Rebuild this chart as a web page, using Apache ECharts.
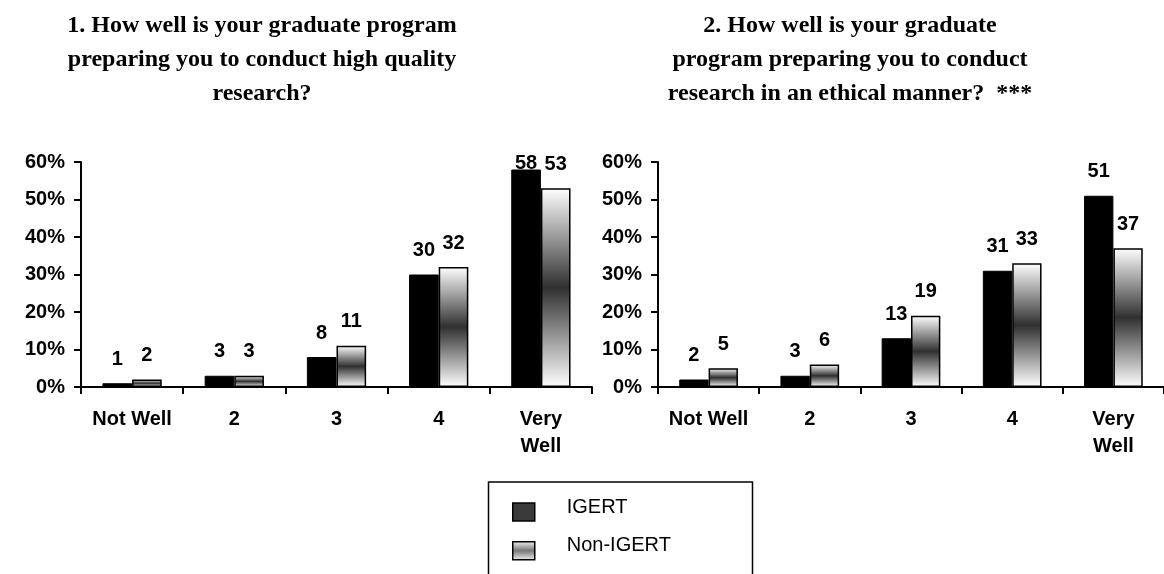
<!DOCTYPE html>
<html><head><meta charset="utf-8">
<script src="https://cdn.jsdelivr.net/npm/echarts@6/dist/echarts.min.js"></script>
<style>html,body{margin:0;padding:0;background:#fff}#c{width:1164px;height:574px}</style>
</head><body><div id="c"></div>
<script>
const categories = ['Not Well', '2', '3', '4', 'Very\nWell'];
const q1Igert = [1, 3, 8, 30, 58];
const q1NonIgert = [2, 3, 11, 32, 53];
const q2Igert = [2, 3, 13, 31, 51];
const q2NonIgert = [5, 6, 19, 33, 37];
const yTicks = [0, 10, 20, 30, 40, 50, 60];
const title1 = '1. How well is your graduate program\npreparing you to conduct high quality\nresearch?';
const title2 = '2. How well is your graduate\nprogram preparing you to conduct\nresearch in an ethical manner?  ***';
const seriesNames = ['IGERT', 'Non-IGERT'];

const YMAX = yTicks[yTicks.length - 1];
const PLOT_H = 225;
const gradFill = new echarts.graphic.LinearGradient(0, 0, 0, 1, [
  {offset: 0, color: '#ffffff'},
  {offset: 0.5, color: '#303030'},
  {offset: 1, color: '#ffffff'}
]);
const legendGrad = new echarts.graphic.LinearGradient(0, 0, 0, 1, [
  {offset: 0, color: '#f4f4f4'},
  {offset: 0.5, color: '#777777'},
  {offset: 1, color: '#f4f4f4'}
]);

function items(vals) {
  return vals.map(v => {
    const room = (YMAX - v) * PLOT_H / YMAX - 11;
    return {value: v, label: {distance: Math.min(14, room)}};
  });
}
const FONT = 'Liberation Sans, Arial, sans-serif';
const TFONT = 'bold 24px "Liberation Serif", "Times New Roman", serif';
const labelStyle = {show: true, position: 'top', fontFamily: FONT, fontWeight: 'bold', fontSize: 20, color: '#000'};

function mkSeries(name, vals, idx, grad) {
  return {
    type: 'bar', name: name, xAxisIndex: idx, yAxisIndex: idx,
    data: items(vals), barGap: '0%', barCategoryGap: '42%',
    itemStyle: grad ? {color: gradFill, borderColor: '#000', borderWidth: 1.5} : {color: '#000', borderColor: '#000', borderWidth: 1},
    label: labelStyle, animation: false
  };
}

const axisFont = {fontFamily: FONT, fontWeight: 'bold', fontSize: 20, color: '#000'};
function xAx(gi) {
  return {type: 'category', gridIndex: gi, data: categories,
    axisLine: {lineStyle: {color: '#000', width: 2}},
    axisTick: {show: true, inside: false, length: 7, alignWithLabel: false, lineStyle: {color: '#000', width: 2}},
    axisLabel: Object.assign({margin: 19, lineHeight: 27, interval: 0}, axisFont)};
}
function yAx(gi) {
  return {type: 'value', gridIndex: gi, min: 0, max: YMAX, interval: 10,
    axisLine: {show: true, lineStyle: {color: '#000', width: 2}},
    axisTick: {show: true, length: 7, lineStyle: {color: '#000', width: 2}},
    splitLine: {show: false},
    axisLabel: Object.assign({margin: 16, formatter: v => yTicks.includes(v) ? v + '%' : ''}, axisFont)};
}

const chart = echarts.init(document.getElementById('c'), null, {renderer: 'canvas'});
chart.setOption({
  backgroundColor: '#fff',
  animation: false,
  grid: [
    {left: 81, top: 162, width: 511, height: PLOT_H},
    {left: 658, top: 162, width: 511, height: PLOT_H}
  ],
  xAxis: [xAx(0), xAx(1)],
  yAxis: [yAx(0), yAx(1)],
  legend: {
    orient: 'vertical', left: 488, top: 482,
    itemWidth: 22, itemHeight: 18, itemGap: 14,
    padding: [15, 5, 0, 24],
    formatter: '{t|{name}}',
    textStyle: {fontFamily: FONT, fontSize: 20, color: '#000', padding: [0, 0, 0, 27],
      rich: {t: {fontFamily: FONT, fontSize: 20, color: '#000', padding: [0, 0, 10, 0]}}},
    data: [
      {name: seriesNames[0], icon: 'rect', itemStyle: {color: '#3a3a3a', borderColor: '#000', borderWidth: 1.5}},
      {name: seriesNames[1], icon: 'rect', itemStyle: {color: legendGrad, borderColor: '#000', borderWidth: 1.5}}
    ]
  },
  graphic: [
    {type: 'rect', silent: true, z: -1, shape: {x: 488.5, y: 482, width: 264, height: 130}, style: {fill: 'none', stroke: '#000', lineWidth: 1.5}},
    {type: 'text', x: 262, y: 9, silent: true, style: {text: title1, textAlign: 'center', font: TFONT, lineHeight: 34, fill: '#000'}},
    {type: 'text', x: 850, y: 9, silent: true, style: {text: title2, textAlign: 'center', font: TFONT, lineHeight: 34, fill: '#000'}}
  ],
  series: [
    mkSeries(seriesNames[0], q1Igert, 0, false),
    mkSeries(seriesNames[1], q1NonIgert, 0, true),
    mkSeries(seriesNames[0], q2Igert, 1, false),
    mkSeries(seriesNames[1], q2NonIgert, 1, true)
  ]
});
</script></body></html>
